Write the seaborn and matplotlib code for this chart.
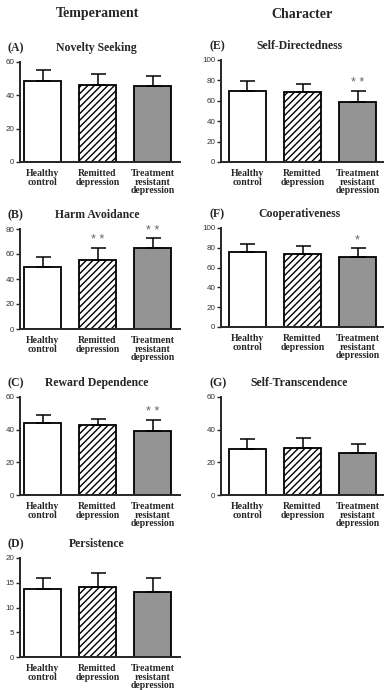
import matplotlib
matplotlib.use("Agg")
import matplotlib.pyplot as plt
import seaborn as sns
import pandas as pd

sns.set_style("ticks")
plt.rcParams["hatch.linewidth"] = 1.0

groups = ["Healthy\ncontrol", "Remitted\ndepression", "Treatment\nresistant\ndepression"]

# means and upper error-bar ends (mean + SD)
ns_mean = [48.5, 46.5, 45.5]
ns_top = [55, 53, 51.5]
ha_mean = [49.5, 55.5, 65]
ha_top = [57.5, 65, 72.5]
rd_mean = [44, 43, 39]
rd_top = [49, 46.5, 46]
ps_mean = [13.8, 14.1, 13.1]
ps_top = [16, 16.9, 16]
sd_mean = [70, 69, 58.5]
sd_top = [79, 76, 70]
co_mean = [75.5, 74, 70.5]
co_top = [83.5, 82, 79.5]
st_mean = [28, 29, 26]
st_top = [34.5, 35, 31.5]

ns_stars = ["", "", ""]
ha_stars = ["", "* *", "* *"]
rd_stars = ["", "", "* *"]
ps_stars = ["", "", ""]
sd_stars = ["", "", "* *"]
co_stars = ["", "", "*"]
st_stars = ["", "", ""]

serif = ["Liberation Serif", "DejaVu Serif"]
sans = ["Liberation Sans", "DejaVu Sans"]

W, H = 384, 690
fig = plt.figure(figsize=(W / 100, H / 100), dpi=100)


def make_ax(left, top, right, bottom):
    return fig.add_axes([left / W, 1 - bottom / H, (right - left) / W, (bottom - top) / H])


def panel(ax, letter, title, means, tops, stars, ymax, step, xlim):
    df = pd.DataFrame({"group": groups, "mean": means})
    sns.barplot(data=df, x="group", y="mean", hue="group",
                palette=["white", "white", "#949494"], legend=False,
                width=0.67, edgecolor="black", linewidth=1.3,
                errorbar=None, ax=ax)
    ax.patches[1].set_hatch("/////")
    err = [t - m for t, m in zip(tops, means)]
    ax.errorbar(range(3), means, yerr=[[0, 0, 0], err], fmt="none",
                ecolor="black", elinewidth=1.1, capsize=5.4, capthick=1.1)
    for i, s in enumerate(stars):
        if s:
            ax.text(i, tops[i] + ymax * 0.015, s, ha="center", va="bottom",
                    fontsize=9, color="#666666", family=sans)
    ax.set_xlim(*xlim)
    ax.set_ylim(0, ymax)
    ax.set_yticks(range(0, ymax + 1, step))
    ax.set_xlabel("")
    ax.set_ylabel("")
    ax.tick_params(axis="x", length=0, pad=5)
    ax.tick_params(axis="y", length=3, width=1, pad=1, labelsize=5.8, labelcolor="#333333")
    for lab in ax.get_yticklabels():
        lab.set_family(sans)
    ax.set_xticks(range(3))
    ax.set_xticklabels(groups, fontsize=7, fontweight="bold", family=serif,
                       va="top", linespacing=0.95)
    sns.despine(ax=ax)
    for sp in ["left", "bottom"]:
        ax.spines[sp].set_linewidth(1.4)
    pos = ax.get_position()
    x0 = pos.x0 * W
    y_top = (1 - pos.y1) * H
    cx = x0 + (pos.x1 * W - x0) * 0.48
    fig.text((x0 - 12) / W, 1 - (y_top - 14) / H, letter, fontsize=8.5,
             fontweight="bold", family=serif, ha="left", va="center")
    fig.text(cx / W, 1 - (y_top - 14) / H, title, fontsize=8.5,
             fontweight="bold", family=serif, ha="center", va="center")


left_x = (-0.41, 2.5)
right_x = (-0.48, 2.48)

panel(make_ax(20, 62, 180, 162), "(A)", "Novelty Seeking", ns_mean, ns_top, ns_stars, 60, 20, left_x)
panel(make_ax(20, 229, 180, 329), "(B)", "Harm Avoidance", ha_mean, ha_top, ha_stars, 80, 20, left_x)
panel(make_ax(20, 397, 180, 495), "(C)", "Reward Dependence", rd_mean, rd_top, rd_stars, 60, 20, left_x)
panel(make_ax(20, 558, 180, 657), "(D)", "Persistence", ps_mean, ps_top, ps_stars, 20, 5, left_x)
panel(make_ax(221, 60, 384, 162), "(E)", "Self-Directedness", sd_mean, sd_top, sd_stars, 100, 20, right_x)
panel(make_ax(221, 228, 384, 327), "(F)", "Cooperativeness", co_mean, co_top, co_stars, 100, 20, right_x)
panel(make_ax(221, 397, 384, 495), "(G)", "Self-Transcendence", st_mean, st_top, st_stars, 60, 20, right_x)

fig.text(98 / W, 1 - 13 / H, "Temperament", fontsize=10, fontweight="bold",
         family=serif, ha="center", va="center")
fig.text(302 / W, 1 - 15 / H, "Character", fontsize=10, fontweight="bold",
         family=serif, ha="center", va="center")

fig.savefig("out.png", dpi=100)
